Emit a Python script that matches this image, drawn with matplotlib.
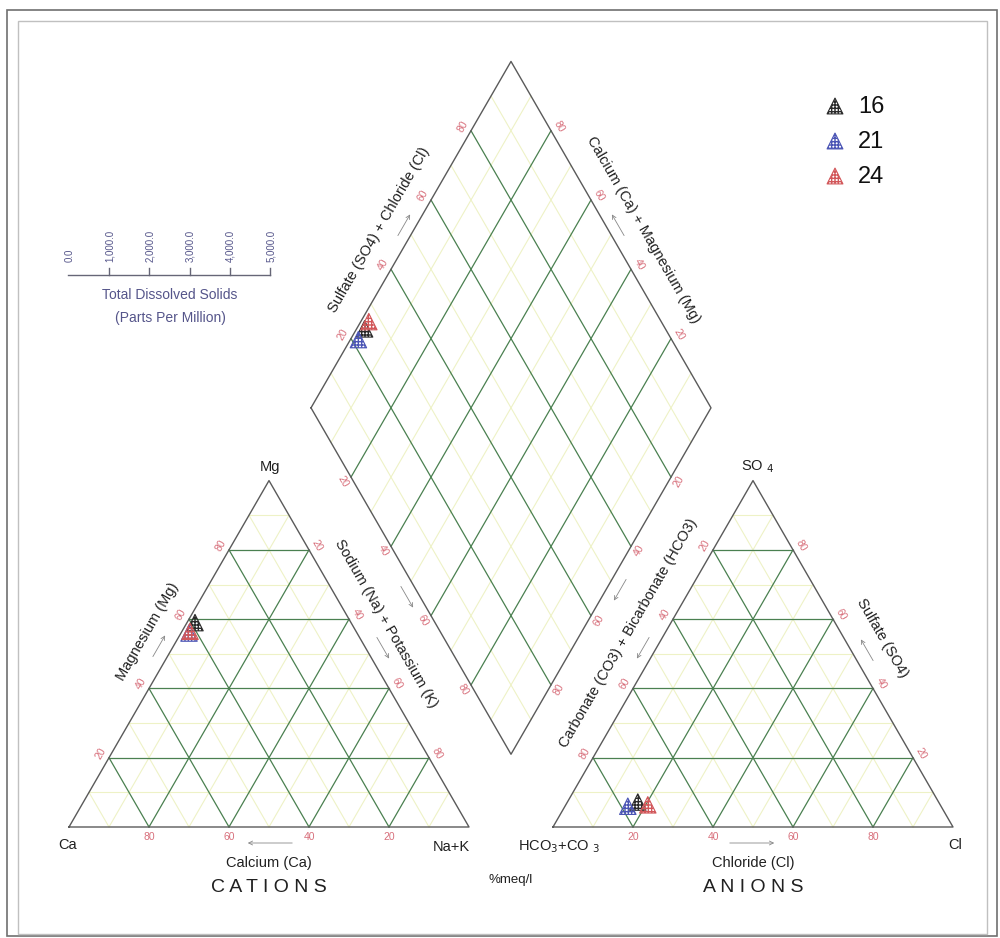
import numpy as np
import matplotlib.pyplot as plt
from matplotlib.patches import Rectangle

plt.rcParams['font.family'] = ['Liberation Sans', 'DejaVu Sans']

# ---- data (percent meq/l) ----
samples = ['16', '21', '24']
colors = ['#2a2a2a', '#4b55b5', '#d2575a']
ca = [39.0, 42.0, 41.5]
mg = [59.0, 56.0, 56.5]
na_k = [2.0, 2.0, 2.0]
hco3_co3 = [75.2, 78.3, 73.1]
so4 = [7.2, 6.0, 6.4]
cl = [17.6, 15.7, 20.5]

tds_ticks = [0, 1000, 2000, 3000, 4000, 5000]
grid_major = [20, 40, 60, 80]
grid_minor = [10, 30, 50, 70, 90]

# ---- geometry (pixel-like units, y down) ----
S = 400.0
H = S * np.sqrt(3) / 2
Y_BASE = 827.0
X_CAT = 69.0
X_AN = 553.0
GAP = X_AN - (X_CAT + S)
B = np.array([(X_CAT + S + X_AN) / 2, Y_BASE - GAP / 2 * np.sqrt(3)])
L = B + np.array([-S / 2, -H])
T = B + np.array([0, -2 * H])
R = B + np.array([S / 2, -H])
dT = T - L
dB = B - L

EDGE = '#5a5a5a'
MAJOR = '#4a8050'
MINOR = '#eef2c6'
TICKC = '#d8707c'
TXT = '#202020'


def tern(x0, right, top):
    return np.array([x0 + S * (right + top / 2), Y_BASE - H * top])


def diamond(s, n):
    return L + s * dT + n * dB


fig = plt.figure(figsize=(10, 9.38), dpi=100)
ax = fig.add_axes([0, 0, 1, 1])
ax.set_xlim(0, 1000)
ax.set_ylim(938, 0)
ax.axis('off')


def seg(p, q, **kw):
    ax.plot([p[0], q[0]], [p[1], q[1]], **kw)


def triangle_grid(x0):
    for vals, kw in ((grid_minor, dict(color=MINOR, lw=0.8, zorder=1)),
                     (grid_major, dict(color=MAJOR, lw=0.9, zorder=2))):
        for v in vals:
            f = v / 100
            seg(tern(x0, 0, f), tern(x0, 1 - f, f), **kw)
            seg(tern(x0, f, 0), tern(x0, f, 1 - f), **kw)
            seg(tern(x0, 1 - f, 0), tern(x0, 0, 1 - f), **kw)
    pts = [tern(x0, 0, 0), tern(x0, 1, 0), tern(x0, 0, 1), tern(x0, 0, 0)]
    ax.plot([p[0] for p in pts], [p[1] for p in pts], color=EDGE, lw=1.0, zorder=3)


def diamond_grid():
    for vals, kw in ((grid_minor, dict(color=MINOR, lw=0.8, zorder=1)),
                     (grid_major, dict(color=MAJOR, lw=0.9, zorder=2))):
        for v in vals:
            f = v / 100
            seg(diamond(f, 0), diamond(f, 1), **kw)
            seg(diamond(0, f), diamond(1, f), **kw)
    pts = [L, T, R, B, L]
    ax.plot([p[0] for p in pts], [p[1] for p in pts], color=EDGE, lw=1.0, zorder=3)


triangle_grid(X_CAT)
triangle_grid(X_AN)
diamond_grid()

NUL = np.array([-0.866, -0.5])   # outward normal, up-left
NUR = np.array([0.866, -0.5])    # up-right
NDR = np.array([0.866, 0.5])
NDL = np.array([-0.866, 0.5])


def tick(p, text, rot, normal=None, off=9):
    if normal is not None:
        p = p + normal * off
    ax.text(p[0], p[1], text, fontsize=7.5, color=TICKC, rotation=rot,
            ha='center', va='center', zorder=4)


for v in grid_major:
    f = v / 100
    # cations
    tick(tern(X_CAT, 0, f), str(v), 60, NUL)
    tick(tern(X_CAT, f, 1 - f), str(v), -60, NUR)
    tick(tern(X_CAT, 1 - f, 0) + np.array([0, 10]), str(v), 0)
    # anions
    tick(tern(X_AN, 0, 1 - f), str(v), 60, NUL)
    tick(tern(X_AN, 1 - f, f), str(v), -60, NUR)
    tick(tern(X_AN, f, 0) + np.array([0, 10]), str(v), 0)
    # diamond
    tick(diamond(f, 0), str(v), 60, NUL)
    tick(diamond(1, 1 - f), str(v), -60, NUR)
    tick(diamond(1 - f, 1), str(v), 60, NDR)
    tick(diamond(0, f), str(v), -60, NDL)


def arrow(center, direction, length=30):
    d = np.array(direction, dtype=float)
    d = d / np.linalg.norm(d)
    c = np.array(center)
    ax.annotate('', xy=c + d * length / 2, xytext=c - d * length / 2,
                arrowprops=dict(arrowstyle='->', color='#888888', lw=0.6,
                                mutation_scale=7), zorder=4)


UP_R = (0.5, -0.866)
UP_L = (-0.5, -0.866)
DN_R = (0.5, 0.866)
DN_L = (-0.5, 0.866)

# axis titles and arrows
title_kw = dict(fontsize=10.5, color=TXT, ha='center', va='center')
ax.text(148, 632, 'Magnesium (Mg)', rotation=60, **title_kw)
arrow((159, 646), UP_R)
ax.text(386, 624, 'Sodium (Na) + Potassium (K)', rotation=-60, **title_kw)
arrow((383, 648), DN_R)
arrow((407, 597), DN_R)
ax.text(379, 230, 'Sulfate (SO4) + Chloride (Cl)', rotation=60, **title_kw)
arrow((404, 225), UP_R)
ax.text(643, 230, 'Calcium (Ca) + Magnesium (Mg)', rotation=-60, **title_kw)
arrow((618, 225), UP_L)
ax.text(628, 633, 'Carbonate (CO3) + Bicarbonate (HCO3)', rotation=60, **title_kw)
arrow((643, 648), DN_L)
arrow((620, 590), DN_L)
ax.text(882, 638, 'Sulfate (SO4)', rotation=-60, **title_kw)
arrow((867, 650), UP_L)

ax.text(269, 863, 'Calcium (Ca)', **title_kw)
arrow((270, 843), (-1, 0), 50)
ax.text(753, 863, 'Chloride (Cl)', **title_kw)
arrow((752, 843), (1, 0), 50)

corner_kw = dict(fontsize=10.5, color=TXT, ha='center', va='center')
ax.text(68, 845, 'Ca', **corner_kw)
ax.text(451, 847, 'Na+K', **corner_kw)
ax.text(270, 467, 'Mg', **corner_kw)
ax.text(559, 847, r'HCO$_3$+CO $_3$', **corner_kw)
ax.text(955, 845, 'Cl', **corner_kw)
ax.text(758, 467, r'SO $_4$', **corner_kw)
ax.text(511, 880, '%meq/l', fontsize=9.5, color=TXT, ha='center', va='center')
ax.text(269, 887, 'C A T I O N S', fontsize=14, color=TXT, ha='center', va='center')
ax.text(753, 887, 'A N I O N S', fontsize=14, color=TXT, ha='center', va='center')

# samples
for i, name in enumerate(samples):
    pc = tern(X_CAT, na_k[i] / 100, mg[i] / 100)
    pa = tern(X_AN, cl[i] / 100, so4[i] / 100)
    pd = diamond((so4[i] + cl[i]) / 100, na_k[i] / 100)
    for p in (pc, pa, pd):
        ax.scatter(p[0], p[1], s=140, marker='^', facecolors='none',
                   edgecolors=colors[i], hatch='+++++', linewidths=0.8, zorder=6)

# legend
for i, name in enumerate(samples):
    y = 106 + 35 * i
    ax.scatter(835, y, s=130, marker='^', facecolors='none',
               edgecolors=colors[i], hatch='+++++', linewidths=0.8, zorder=6)
    ax.text(858, y + 1, name, fontsize=17, color='#111111', ha='left', va='center')

# TDS scale
TDS_COL = '#55558a'
tds_x0, tds_px = 69.0, 40.2
xs = [tds_x0 + v / 1000 * tds_px for v in tds_ticks]
ax.plot([xs[0] - 1, xs[-1]], [275, 275], color='#666677', lw=1.0)
for v, x in zip(tds_ticks, xs):
    if v > 0:
        ax.plot([x, x], [268, 275], color='#666677', lw=1.0)
    ax.text(x + 1, 262, f'{v:,.1f}', fontsize=7, color=TDS_COL, rotation=90,
            ha='center', va='bottom')
ax.text(170, 295, 'Total Dissolved Solids', fontsize=10, color=TDS_COL,
        ha='center', va='center')
ax.text(170, 318, '(Parts Per Million)', fontsize=10, color=TDS_COL,
        ha='center', va='center')

# frames
ax.add_patch(Rectangle((7, 10), 990, 926, fill=False, ec='#707070', lw=1.2))
ax.add_patch(Rectangle((18, 21), 969, 913, fill=False, ec='#c0c0c0', lw=1.0))

fig.savefig('out.png', dpi=100)
